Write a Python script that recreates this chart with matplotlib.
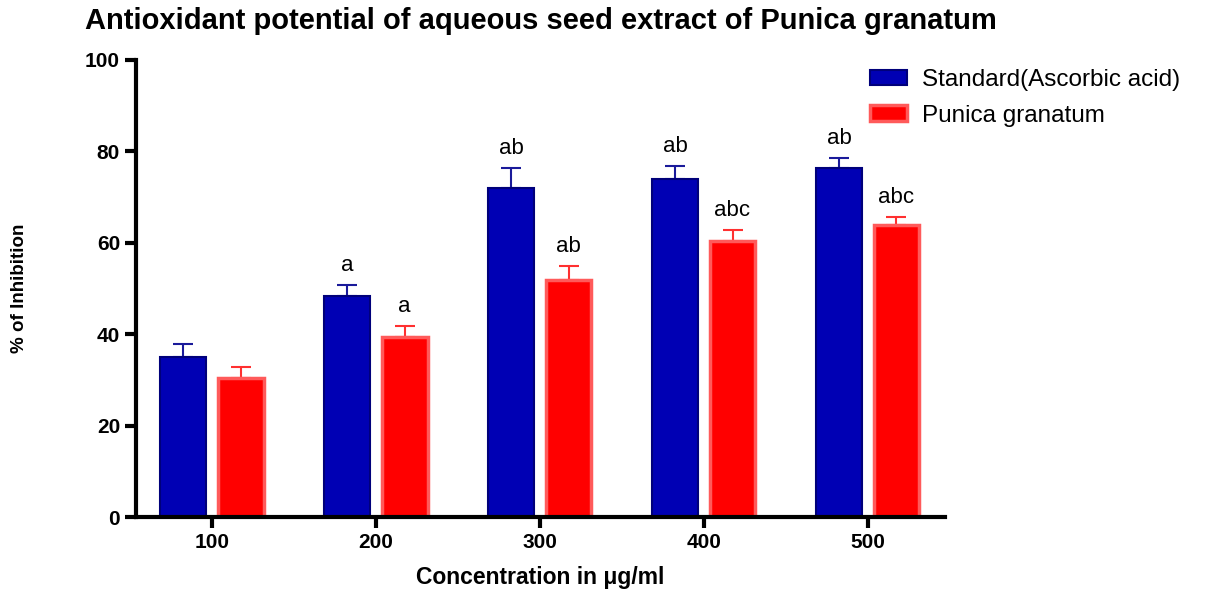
import matplotlib
matplotlib.use('Agg')
import matplotlib.pyplot as plt
import numpy as np

plt.rcParams['font.family'] = ['Liberation Sans', 'DejaVu Sans']

concentrations = ['100', '200', '300', '400', '500']
standard = [35.0, 48.4, 72.0, 74.0, 76.4]
standard_err = [2.9, 2.4, 4.4, 2.8, 2.2]
punica = [30.4, 39.4, 51.9, 60.4, 63.9]
punica_err = [2.4, 2.4, 3.0, 2.4, 1.7]
standard_letters = ['', 'a', 'ab', 'ab', 'ab']
punica_letters = ['', 'a', 'ab', 'abc', 'abc']

fig = plt.figure(figsize=(12.09, 5.91), dpi=100)
ax = fig.add_axes([0.1125, 0.1252, 0.669, 0.7733])

x = np.arange(len(concentrations))
w = 0.28
off = 0.175

ax.bar(x - off, standard, w, color='#0000b4', edgecolor='#00007a', linewidth=1.5,
       label='Standard(Ascorbic acid)', zorder=2)
ax.bar(x + off, punica, w, color='#ff0000', edgecolor='#ff5a5a', linewidth=2.5,
       label='Punica granatum', zorder=2)
ax.errorbar(x - off, standard, yerr=[np.zeros(5), standard_err], fmt='none',
            ecolor='#1a1a9a', elinewidth=1.5, capsize=7, capthick=1.5, zorder=1)
ax.errorbar(x + off, punica, yerr=[np.zeros(5), punica_err], fmt='none',
            ecolor='#ff3030', elinewidth=1.5, capsize=7, capthick=1.5, zorder=1)

for i in range(len(x)):
    if standard_letters[i]:
        ax.text(x[i] - off, standard[i] + standard_err[i] + 2.0, standard_letters[i],
                ha='center', va='bottom', fontsize=16)
    if punica_letters[i]:
        ax.text(x[i] + off, punica[i] + punica_err[i] + 2.0, punica_letters[i],
                ha='center', va='bottom', fontsize=16)

ax.set_xlim(-0.463, 4.47)
ax.set_ylim(0, 100)
ax.set_yticks([0, 20, 40, 60, 80, 100])
ax.set_xticks(x)
ax.set_xticklabels(concentrations)
for s in ['top', 'right']:
    ax.spines[s].set_visible(False)
for s in ['left', 'bottom']:
    ax.spines[s].set_linewidth(3)
ax.tick_params(axis='both', width=3, length=8, labelsize=15)
for lab in ax.get_xticklabels() + ax.get_yticklabels():
    lab.set_fontweight('bold')

ax.set_xlabel('Concentration in μg/ml', fontsize=16.5, fontweight='bold')
ax.xaxis.set_label_coords(0.5, -0.108)
ax.set_ylabel('% of Inhibition', fontsize=13.5, fontweight='bold')
ax.yaxis.set_label_coords(-0.133, 0.5)
fig.text(0.07, 0.965, 'Antioxidant potential of aqueous seed extract of Punica granatum',
         fontsize=21, fontweight='bold', ha='left', va='center')

ax.legend(loc='upper left', bbox_to_anchor=(0.72, 0.883), bbox_transform=fig.transFigure,
          frameon=False, fontsize=17.5, borderpad=0, borderaxespad=0,
          handlelength=1.5, handleheight=0.6, labelspacing=0.55, handletextpad=0.6)

fig.savefig('out.png', dpi=100)
